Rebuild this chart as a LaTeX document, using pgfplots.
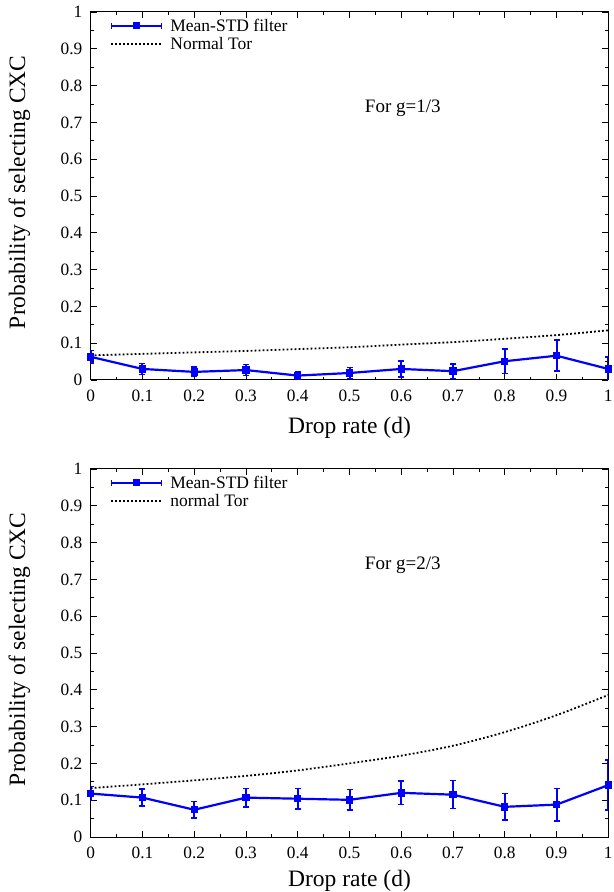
\documentclass[border=0pt]{standalone}
\usepackage{fontspec}
\setmainfont{Liberation Serif}
\usepackage{pgfplots}
\pgfplotsset{compat=1.18}
\definecolor{gpblue}{RGB}{0,0,255}

\pgfplotstableread{
x    y      e
0.0  0.063  0.017
0.1  0.030  0.015
0.2  0.022  0.013
0.3  0.027  0.015
0.4  0.012  0.011
0.5  0.019  0.015
0.6  0.030  0.022
0.7  0.024  0.020
0.8  0.051  0.033
0.9  0.066  0.042
1.0  0.030  0.033
}\topfilter
\pgfplotstableread{
x    y
0.0  0.067
0.1  0.071
0.2  0.075
0.3  0.079
0.4  0.084
0.5  0.089
0.6  0.096
0.7  0.103
0.8  0.112
0.9  0.122
1.0  0.135
}\toptor
\pgfplotstableread{
x    y      e
0.0  0.118  0.019
0.1  0.107  0.023
0.2  0.074  0.022
0.3  0.107  0.025
0.4  0.104  0.028
0.5  0.101  0.028
0.6  0.120  0.032
0.7  0.115  0.038
0.8  0.082  0.036
0.9  0.088  0.044
1.0  0.141  0.068
}\botfilter
\pgfplotstableread{
x    y
0.0  0.133
0.1  0.143
0.2  0.154
0.3  0.166
0.4  0.181
0.5  0.200
0.6  0.221
0.7  0.248
0.8  0.285
0.9  0.331
1.0  0.386
}\bottor

\pgfplotsset{
  gpaxis/.style={
    scale only axis, width=517.6bp, height=368bp,
    xmin=0, xmax=1, ymin=0, ymax=1,
    xtick={0,0.1,0.2,0.3,0.4,0.5,0.6,0.7,0.8,0.9,1},
    ytick={0,0.1,0.2,0.3,0.4,0.5,0.6,0.7,0.8,0.9,1},
    minor x tick num=1, minor y tick num=1,
    tick align=inside, tick pos=both,
    major tick length=6bp, minor tick length=3bp,
    every tick/.style={black, line width=0.8bp},
    axis line style={black, line width=1bp},
    /pgf/number format/assume math mode=true,
    ticklabel style={font=\fontsize{17.3bp}{21bp}\selectfont},
    yticklabel style={xshift=-4.9bp},
    xticklabel style={yshift=-6.9bp},
    xlabel={Drop rate (d)},
    ylabel={Probability of selecting CXC},
    every axis y label/.style={at={(axis description cs:-0.1376,0.51)}, rotate=90, anchor=center,
      font=\fontsize{23.5bp}{27bp}\selectfont},
    legend cell align=left,
    legend style={draw=none, fill=none, inner sep=0pt,
      font=\fontsize{17.5bp}{21bp}\selectfont,
      nodes={inner sep=1bp},
      row sep=2.5bp,
      /tikz/every odd column/.append style={column sep=7bp},
      at={(axis description cs:0.0373,0.985)}, anchor=north west},
  },
  filterplot/.style={
    gpblue, line width=2.2bp, mark=square*, mark size=2.6bp,
    mark options={solid, gpblue},
    error bars/y dir=both, error bars/y explicit,
    error bars/error bar style={line width=2bp, gpblue},
    error bars/error mark options={gpblue, line width=1.6bp, mark size=3bp, rotate=90},
  },
  torplot/.style={
    black, line width=1.8bp, dash pattern=on 1.8bp off 2.2bp, smooth, mark=none,
  },
  filterlegend/.style={
    legend image code/.code={
      \draw[gpblue, line width=2.2bp] (0bp,0bp) -- (50bp,0bp);
      \draw[gpblue, line width=1.6bp] (0bp,-3bp) -- (0bp,3bp) (50bp,-3bp) -- (50bp,3bp);
      \fill[gpblue] (22.4bp,-2.6bp) rectangle (27.6bp,2.6bp);
    }
  },
  torlegend/.style={
    legend image code/.code={
      \draw[black, line width=1.8bp, dash pattern=on 1.8bp off 2.2bp] (0bp,0bp) -- (50bp,0bp);
    }
  },
}

\begin{document}
\begin{tikzpicture}
\path[use as bounding box] (0bp,0bp) rectangle (614bp,892bp);

\begin{axis}[gpaxis, at={(90.7bp,512bp)}, anchor=south west,
  every axis x label/.style={at={(axis description cs:0.5,-0.145)}, anchor=base,
    font=\fontsize{23.5bp}{27bp}\selectfont}]
\addplot[filterplot, filterlegend] table[x=x, y=y, y error=e] {\topfilter};
\addlegendentry{Mean-STD filter}
\addplot[torplot, torlegend] table[x=x, y=y] {\toptor};
\addlegendentry{Normal Tor}
\node[anchor=base, font=\fontsize{19bp}{22bp}\selectfont] at (axis cs:0.603,0.726) {For g=1/3};
\end{axis}

\begin{axis}[gpaxis, at={(90.7bp,55bp)}, anchor=south west,
  every axis x label/.style={at={(axis description cs:0.5,-0.135)}, anchor=base,
    font=\fontsize{23.5bp}{27bp}\selectfont}]
\addplot[filterplot, filterlegend] table[x=x, y=y, y error=e] {\botfilter};
\addlegendentry{Mean-STD filter}
\addplot[torplot, torlegend] table[x=x, y=y] {\bottor};
\addlegendentry{normal Tor}
\node[anchor=base, font=\fontsize{19bp}{22bp}\selectfont] at (axis cs:0.603,0.726) {For g=2/3};
\end{axis}
\end{tikzpicture}
\end{document}
